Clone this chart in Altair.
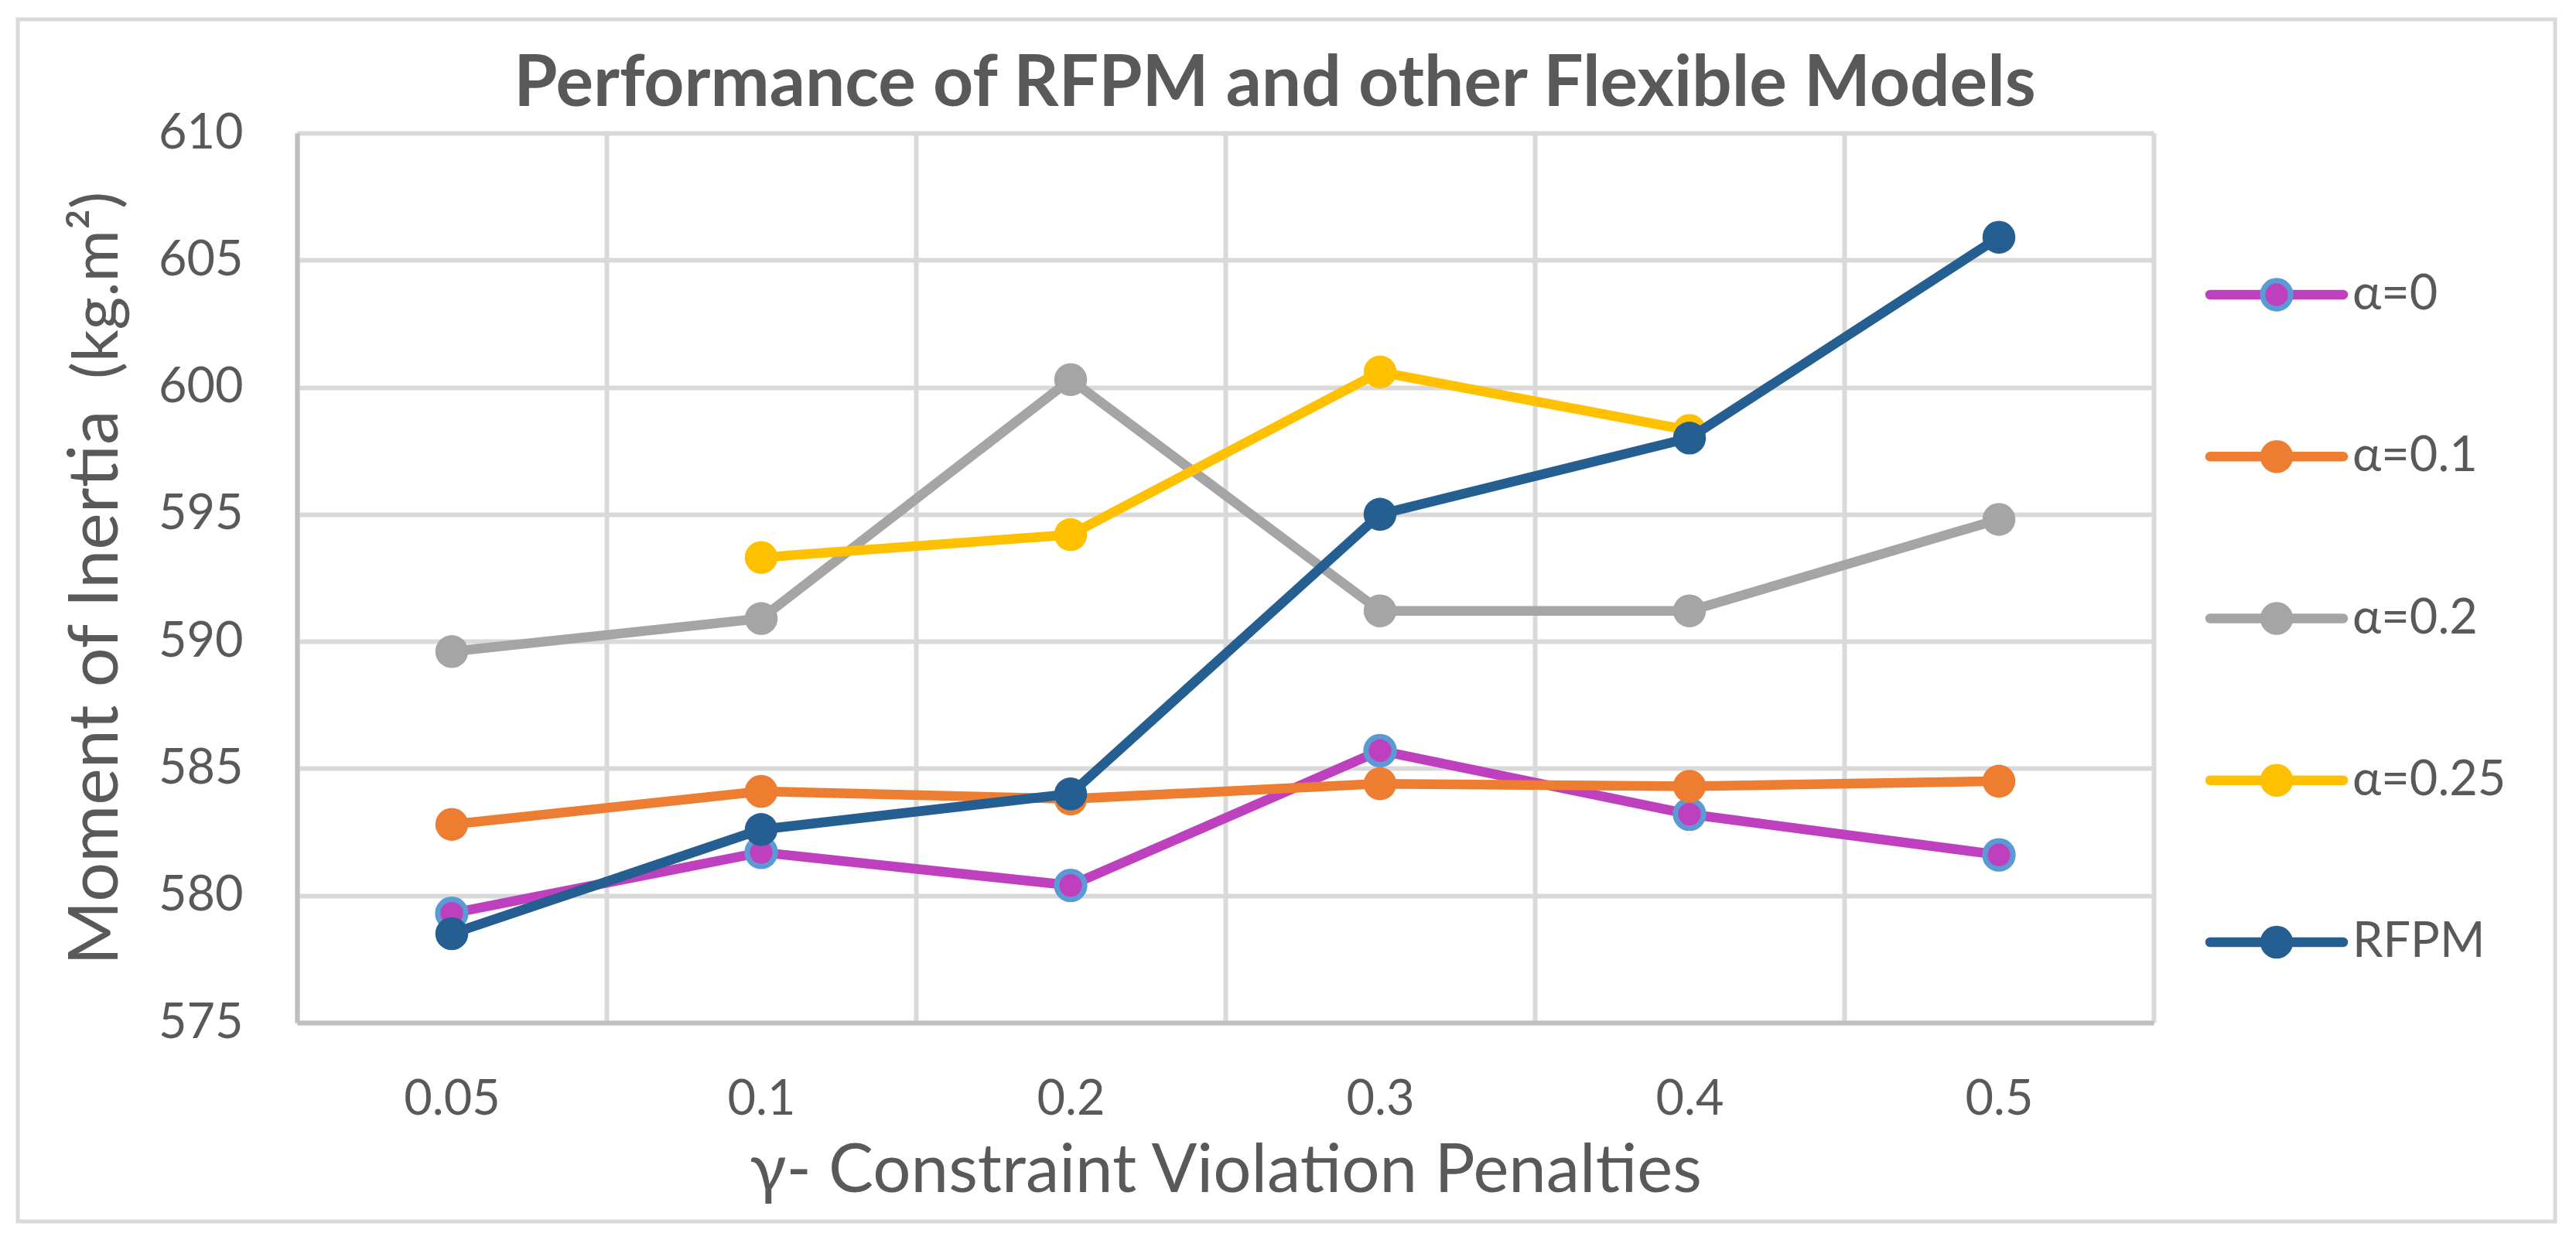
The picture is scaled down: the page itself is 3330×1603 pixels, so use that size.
import altair as alt
import pandas as pd

# ---------------- data ----------------
gamma = ["0.05", "0.1", "0.2", "0.3", "0.4", "0.5"]
series = ["α=0", "α=0.1", "α=0.2", "α=0.25", "RFPM"]
alpha_0 = [579.3, 581.7, 580.4, 585.7, 583.2, 581.6]
alpha_01 = [582.8, 584.1, 583.8, 584.4, 584.3, 584.5]
alpha_02 = [589.6, 590.9, 600.3, 591.2, 591.2, 594.8]
alpha_025 = [None, 593.3, 594.2, 600.6, 598.3, None]
rfpm = [578.5, 582.6, 584.0, 595.0, 598.0, 605.9]
y_ticks = [575, 580, 585, 590, 595, 600, 605, 610]

title_text = "Performance of RFPM and other Flexible Models"
x_title = "γ- Constraint Violation Penalties"
y_title_main = "Moment of Inertia"
y_title_unit = "(kg.m²)"

# ---------------- styles ----------------
line_colors = ["#BF40BF", "#ED7D31", "#A5A5A5", "#FFC000", "#255E91"]
outline_colors = ["#5B9BD5", "#ED7D31", "#A5A5A5", "#FFC000", "#255E91"]
outline_widths = [7, 0, 0, 0, 0]
marker_sizes = [1320, 1810, 1810, 1810, 1810]

W, H = 2400, 1150
FONT = "Lato"
TXT = "#595959"
GRID = "#D9D9D9"
AXIS = "#BFBFBF"
LW = 12.5

values = [alpha_0, alpha_01, alpha_02, alpha_025, rfpm]
rows = []
for s, vals in zip(series, values):
    for g, v in zip(gamma, vals):
        if v is not None:
            rows.append({"gamma": g, "series": s, "value": v})
df = pd.DataFrame(rows)

x_axis = alt.Axis(
    title=x_title, tickBand="extent", ticks=False, tickSize=0, labelAngle=0,
    labelFont=FONT, labelFontSize=63, labelColor=TXT, labelBaseline="alphabetic",
    labelPadding=118, domainColor=AXIS, domainWidth=6, grid=True,
    gridColor=GRID, gridWidth=6, titleFont=FONT, titleFontSize=87,
    titleFontWeight="normal", titleColor=TXT, titleBaseline="alphabetic",
    titleY=218, titleX=W / 2,
)
y_axis = alt.Axis(
    values=y_ticks, title=None, ticks=False, tickSize=0, labelPadding=70,
    labelFont=FONT, labelFontSize=63, labelColor=TXT, domainColor=AXIS,
    domainWidth=6, grid=True, gridColor=GRID, gridWidth=6,
)
x_enc = alt.X("gamma:N", sort=gamma,
              scale=alt.Scale(type="band", domain=gamma, paddingInner=0, paddingOuter=0),
              axis=x_axis)
y_enc = alt.Y("value:Q", scale=alt.Scale(domain=[575, 610], nice=False, zero=False),
              axis=y_axis)

series_layers = []
for i, s in enumerate(series):
    base = alt.Chart(df).transform_filter(alt.datum.series == s)
    line = base.mark_line(color=line_colors[i], strokeWidth=LW, strokeCap="round",
                          strokeJoin="round").encode(x=x_enc, y=y_enc)
    pts = base.mark_point(filled=True, shape="circle", color=line_colors[i],
                          fill=line_colors[i], stroke=outline_colors[i],
                          strokeWidth=outline_widths[i], size=marker_sizes[i],
                          opacity=1).encode(x=x_enc, y=y_enc)
    series_layers += [line, pts]
main = alt.layer(*series_layers)

# ---------------- legend (own point scale) ----------------
legend_df = pd.DataFrame({"series": series})
ly = alt.Y("series:N", sort=series,
           scale=alt.Scale(type="point", domain=series, range=[209, 1046], padding=0),
           axis=None)
leg_rule = alt.Chart(legend_df).mark_rule(strokeWidth=LW, strokeCap="round").encode(
    x=alt.value(2473), x2=alt.value(2645), y=ly,
    color=alt.Color("series:N", scale=alt.Scale(domain=series, range=line_colors), legend=None),
)
leg_pts = alt.Chart(legend_df).mark_point(filled=True, shape="circle", opacity=1).encode(
    x=alt.value(2559), y=ly,
    fill=alt.Fill("series:N", scale=alt.Scale(domain=series, range=line_colors), legend=None),
    stroke=alt.Stroke("series:N", scale=alt.Scale(domain=series, range=outline_colors), legend=None),
    strokeWidth=alt.condition(alt.datum.series == series[0], alt.value(outline_widths[0]), alt.value(0)),
    size=alt.condition(alt.datum.series == series[0], alt.value(marker_sizes[0]), alt.value(marker_sizes[1])),
)
leg_txt = alt.Chart(legend_df).mark_text(align="left", baseline="middle", font=FONT,
                                          fontSize=63, color=TXT).encode(
    x=alt.value(2657), y=ly, text="series:N")
legend = alt.layer(leg_rule, leg_pts, leg_txt)

# ---------------- decorations ----------------
one = pd.DataFrame({"a": [0]})
border = alt.Chart(one).mark_rect(fillOpacity=0, stroke=GRID, strokeWidth=5).encode(
    x=alt.value(-361), x2=alt.value(2919), y=alt.value(-147), y2=alt.value(1407))
title = alt.Chart(one).mark_text(text=title_text, font=FONT, fontSize=91, fontWeight="bold",
                                 color=TXT, align="center", baseline="alphabetic").encode(
    x=alt.value(1264), y=alt.value(-35))
ytitle1 = alt.Chart(one).mark_text(text=y_title_main, font=FONT, fontSize=90, color=TXT,
                                   align="left", baseline="alphabetic", angle=270).encode(
    x=alt.value(-232), y=alt.value(1076))
ytitle2 = alt.Chart(one).mark_text(text=y_title_unit, font=FONT, fontSize=82, color=TXT,
                                   align="left", baseline="alphabetic", angle=270).encode(
    x=alt.value(-232), y=alt.value(318))

chart = alt.layer(border, main, legend, title, ytitle1, ytitle2).resolve_scale(
    y="independent"
).properties(
    width=W, height=H,
    autosize=alt.AutoSizeParams(type="none"),
    padding={"left": 376, "top": 164, "right": 530, "bottom": 265},
    background="white",
).configure_view(strokeWidth=0)

chart.save("out.html", embed_options={"renderer": "svg", "actions": False})
